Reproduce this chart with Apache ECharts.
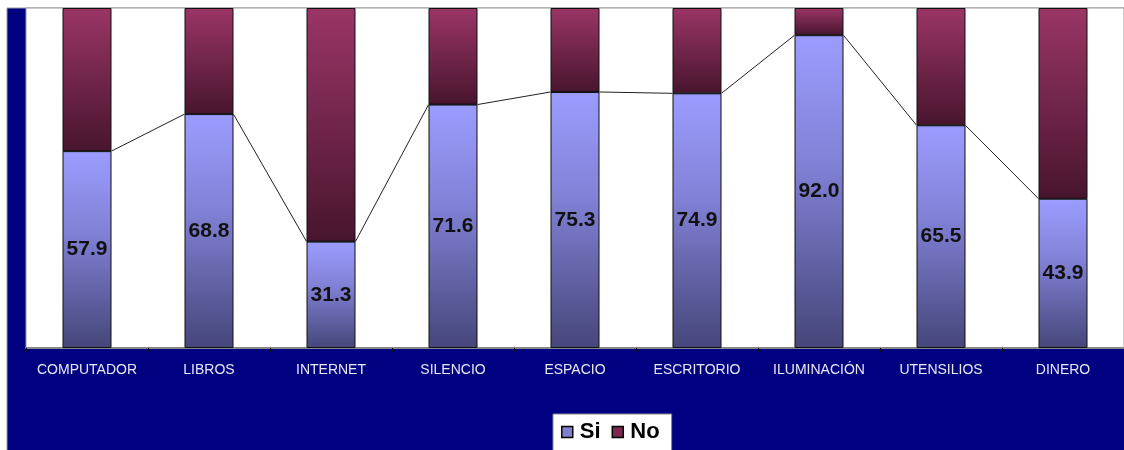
<!DOCTYPE html>
<html>
<head>
<meta charset="utf-8">
<script src="https://cdn.jsdelivr.net/npm/echarts@6/dist/echarts.min.js"></script>
<style>
html,body{margin:0;padding:0;background:#fff;}
#chart{width:1124px;height:450px;}
</style>
</head>
<body>
<div id="chart"></div>
<script>
var categories = ['COMPUTADOR','LIBROS','INTERNET','SILENCIO','ESPACIO','ESCRITORIO','ILUMINACIÓN','UTENSILIOS','DINERO'];
var siValues = [57.9, 68.8, 31.3, 71.6, 75.3, 74.9, 92.0, 65.5, 43.9];
var noValues = [42.1, 31.2, 68.7, 28.4, 24.7, 25.1, 8.0, 34.5, 56.1];

var halfBar = 0.2; // half bar width in category units
var lineData = [];
siValues.forEach(function(v, i){
  lineData.push([i + 0.5 - halfBar, v]);
  lineData.push([i + 0.5 + halfBar, v]);
});

var chart = echarts.init(document.getElementById('chart'));
chart.setOption({
  animation: false,
  graphic: [{
    type: 'rect', z: -100, silent: true,
    shape: {x: 7, y: 8, width: 1130, height: 450},
    style: {fill: '#000080', stroke: '#999', lineWidth: 1}
  }],
  grid: {
    left: 26, top: 8, right: 0, bottom: 102,
    show: true, backgroundColor: '#ffffff', borderColor: '#999', borderWidth: 1
  },
  xAxis: [{
    type: 'category',
    data: categories,
    axisLine: {lineStyle: {color: '#888', width: 2}},
    axisTick: {show: true, interval: 0, length: 4, lineStyle: {color: '#111'}},
    axisLabel: {interval: 0, hideOverlap: false, color: '#e8e8f4', fontSize: 14, fontFamily: 'Liberation Sans, Arial, sans-serif', margin: 15}
  }, {
    type: 'value', min: 0, max: categories.length, show: false
  }],
  yAxis: {
    type: 'value', min: 0, max: 100, show: false,
    splitLine: {show: false}
  },
  legend: {
    left: 553, top: 414,
    backgroundColor: '#ffffff', borderColor: '#888', borderWidth: 1,
    padding: [7, 12, 14, 8],
    itemWidth: 11, itemHeight: 11, itemGap: 11,
    icon: 'rect',
    textStyle: {fontSize: 22, fontWeight: 'bold', color: '#000', fontFamily: 'Liberation Sans, Arial, sans-serif', padding: [0, 0, 0, 2]},
    data: [
      {name: 'Si', itemStyle: {color: '#8080d0', borderColor: '#000', borderWidth: 1.5}},
      {name: 'No', itemStyle: {color: '#7a2850', borderColor: '#000', borderWidth: 1.5}}
    ]
  },
  series: [{
    name: 'Si', type: 'bar', stack: 'total', barWidth: 49, z: 3,
    data: siValues,
    itemStyle: {
      color: {type: 'linear', x: 0, y: 0, x2: 0, y2: 1, colorStops: [
        {offset: 0, color: '#9c9cff'}, {offset: 0.4, color: '#8282d8'}, {offset: 1, color: '#46467a'}
      ]},
      borderColor: '#111', borderWidth: 1
    },
    label: {
      show: true, position: 'inside', fontSize: 21, fontWeight: 'bold', color: '#111',
      fontFamily: 'Liberation Sans, Arial, sans-serif',
      formatter: function(p){ return p.value.toFixed(1); }
    }
  }, {
    name: 'No', type: 'bar', stack: 'total', barWidth: 49, z: 3,
    data: noValues,
    itemStyle: {
      color: {type: 'linear', x: 0, y: 0, x2: 0, y2: 1, colorStops: [
        {offset: 0, color: '#9a3566'}, {offset: 1, color: '#48152d'}
      ]},
      borderColor: '#111', borderWidth: 1
    }
  }, {
    name: 'line', type: 'line', xAxisIndex: 1, yAxisIndex: 0, z: 1,
    data: lineData, symbol: 'none', silent: true,
    lineStyle: {color: '#222', width: 1}
  }]
});
</script>
</body>
</html>
